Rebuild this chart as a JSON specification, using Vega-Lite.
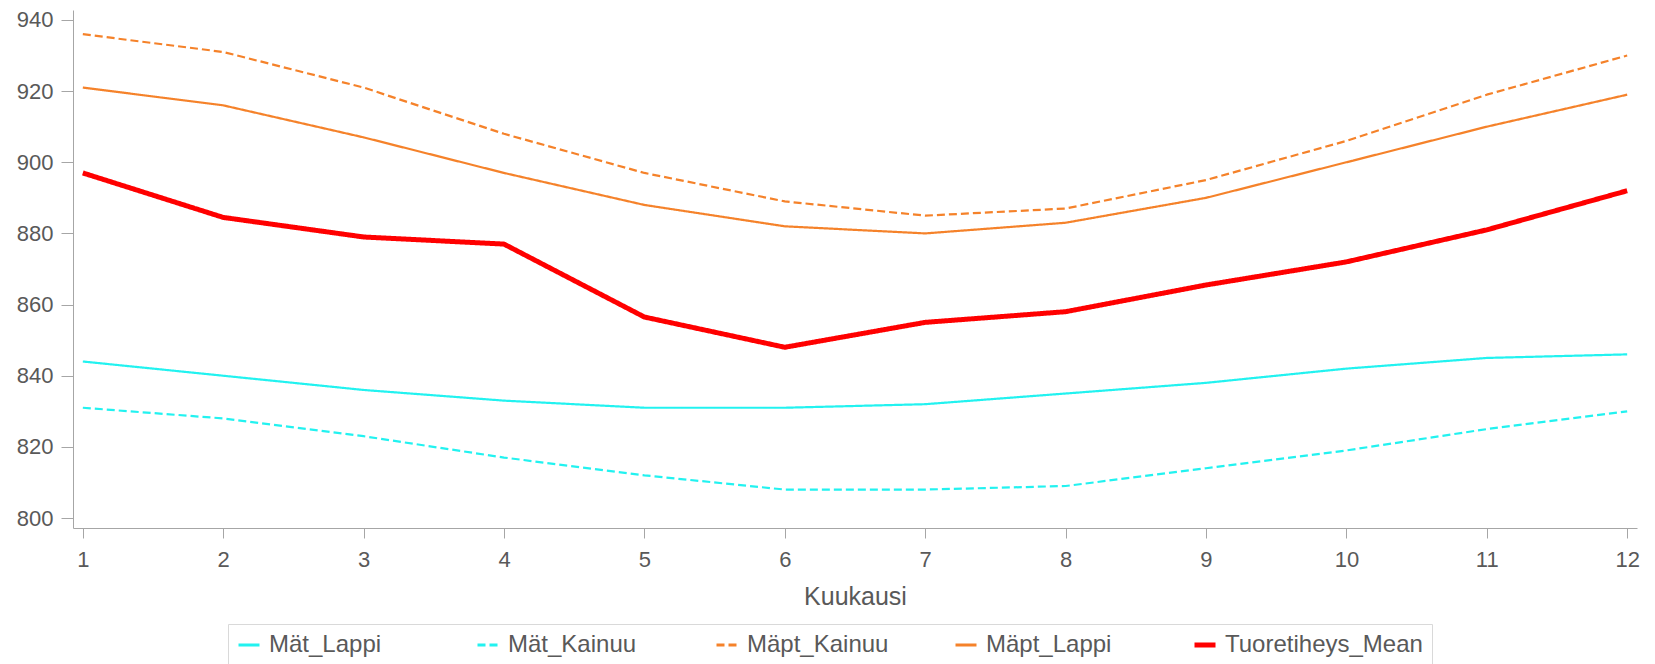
{
  "$schema": "https://vega.github.io/schema/vega-lite/v6.json",
  "width": 1564,
  "height": 518,
  "autosize": {"type": "none"},
  "padding": {"left": 73, "top": 10, "right": 18, "bottom": 136},
  "background": "white",
  "config": {
    "view": {"stroke": null},
    "font": "Liberation Sans",
    "axis": {
      "domainColor": "#A6A6A6",
      "tickColor": "#A6A6A6",
      "labelColor": "#595959",
      "labelFontSize": 22,
      "grid": false,
      "tickSize": 10
    },
    "legend": {
      "orient": "none",
      "legendX": 155,
      "legendY": 614,
      "direction": "horizontal",
      "columns": 5,
      "gridAlign": "all",
      "strokeColor": "#D9D9D9",
      "padding": 9,
      "labelFontSize": 24,
      "labelColor": "#595959",
      "labelOffset": 8,
      "symbolType": "stroke",
      "symbolSize": 441,
      "columnPadding": 0,
      "labelLimit": 400
    }
  },
  "data": {
    "values": [
      {"month": 1, "series": "Mät_Lappi", "value": 844},
      {"month": 2, "series": "Mät_Lappi", "value": 840},
      {"month": 3, "series": "Mät_Lappi", "value": 836},
      {"month": 4, "series": "Mät_Lappi", "value": 833},
      {"month": 5, "series": "Mät_Lappi", "value": 831},
      {"month": 6, "series": "Mät_Lappi", "value": 831},
      {"month": 7, "series": "Mät_Lappi", "value": 832},
      {"month": 8, "series": "Mät_Lappi", "value": 835},
      {"month": 9, "series": "Mät_Lappi", "value": 838},
      {"month": 10, "series": "Mät_Lappi", "value": 842},
      {"month": 11, "series": "Mät_Lappi", "value": 845},
      {"month": 12, "series": "Mät_Lappi", "value": 846},
      {"month": 1, "series": "Mät_Kainuu", "value": 831},
      {"month": 2, "series": "Mät_Kainuu", "value": 828},
      {"month": 3, "series": "Mät_Kainuu", "value": 823},
      {"month": 4, "series": "Mät_Kainuu", "value": 817},
      {"month": 5, "series": "Mät_Kainuu", "value": 812},
      {"month": 6, "series": "Mät_Kainuu", "value": 808},
      {"month": 7, "series": "Mät_Kainuu", "value": 808},
      {"month": 8, "series": "Mät_Kainuu", "value": 809},
      {"month": 9, "series": "Mät_Kainuu", "value": 814},
      {"month": 10, "series": "Mät_Kainuu", "value": 819},
      {"month": 11, "series": "Mät_Kainuu", "value": 825},
      {"month": 12, "series": "Mät_Kainuu", "value": 830},
      {"month": 1, "series": "Mäpt_Kainuu", "value": 936},
      {"month": 2, "series": "Mäpt_Kainuu", "value": 931},
      {"month": 3, "series": "Mäpt_Kainuu", "value": 921},
      {"month": 4, "series": "Mäpt_Kainuu", "value": 908},
      {"month": 5, "series": "Mäpt_Kainuu", "value": 897},
      {"month": 6, "series": "Mäpt_Kainuu", "value": 889},
      {"month": 7, "series": "Mäpt_Kainuu", "value": 885},
      {"month": 8, "series": "Mäpt_Kainuu", "value": 887},
      {"month": 9, "series": "Mäpt_Kainuu", "value": 895},
      {"month": 10, "series": "Mäpt_Kainuu", "value": 906},
      {"month": 11, "series": "Mäpt_Kainuu", "value": 919},
      {"month": 12, "series": "Mäpt_Kainuu", "value": 930},
      {"month": 1, "series": "Mäpt_Lappi", "value": 921},
      {"month": 2, "series": "Mäpt_Lappi", "value": 916},
      {"month": 3, "series": "Mäpt_Lappi", "value": 907},
      {"month": 4, "series": "Mäpt_Lappi", "value": 897},
      {"month": 5, "series": "Mäpt_Lappi", "value": 888},
      {"month": 6, "series": "Mäpt_Lappi", "value": 882},
      {"month": 7, "series": "Mäpt_Lappi", "value": 880},
      {"month": 8, "series": "Mäpt_Lappi", "value": 883},
      {"month": 9, "series": "Mäpt_Lappi", "value": 890},
      {"month": 10, "series": "Mäpt_Lappi", "value": 900},
      {"month": 11, "series": "Mäpt_Lappi", "value": 910},
      {"month": 12, "series": "Mäpt_Lappi", "value": 919},
      {"month": 1, "series": "Tuoretiheys_Mean", "value": 897},
      {"month": 2, "series": "Tuoretiheys_Mean", "value": 884.5},
      {"month": 3, "series": "Tuoretiheys_Mean", "value": 879},
      {"month": 4, "series": "Tuoretiheys_Mean", "value": 877},
      {"month": 5, "series": "Tuoretiheys_Mean", "value": 856.5},
      {"month": 6, "series": "Tuoretiheys_Mean", "value": 848},
      {"month": 7, "series": "Tuoretiheys_Mean", "value": 855},
      {"month": 8, "series": "Tuoretiheys_Mean", "value": 858},
      {"month": 9, "series": "Tuoretiheys_Mean", "value": 865.5},
      {"month": 10, "series": "Tuoretiheys_Mean", "value": 872},
      {"month": 11, "series": "Tuoretiheys_Mean", "value": 881},
      {"month": 12, "series": "Tuoretiheys_Mean", "value": 892}
    ]
  },
  "mark": {"type": "line", "strokeJoin": "round"},
  "encoding": {
    "x": {
      "field": "month",
      "type": "quantitative",
      "scale": {"domain": [0.93, 12.07], "nice": false, "zero": false},
      "axis": {
        "values": [1, 2, 3, 4, 5, 6, 7, 8, 9, 10, 11, 12],
        "title": "Kuukausi",
        "titleFontSize": 25,
        "titleFontWeight": "normal",
        "titleColor": "#595959",
        "titlePadding": 14,
        "labelPadding": 11
      }
    },
    "y": {
      "field": "value",
      "type": "quantitative",
      "scale": {"domain": [797.2, 942.8], "nice": false, "zero": false},
      "axis": {
        "values": [800, 820, 840, 860, 880, 900, 920, 940],
        "title": null,
        "labelPadding": 8,
        "tickSize": 12
      }
    },
    "color": {
      "field": "series",
      "type": "nominal",
      "title": null,
      "scale": {
        "domain": ["Mät_Lappi", "Mät_Kainuu", "Mäpt_Kainuu", "Mäpt_Lappi", "Tuoretiheys_Mean"],
        "range": ["#22F2F0", "#22F2F0", "#F5822A", "#F5822A", "#FF0000"]
      },
      "legend": {
        "symbolStrokeWidth": 3,
        "encode": {
          "symbols": {
            "update": {
              "strokeWidth": {"signal": "datum.value === 'Tuoretiheys_Mean' ? 5 : 3"}
            }
          }
        }
      }
    },
    "strokeDash": {
      "field": "series",
      "type": "nominal",
      "title": null,
      "scale": {
        "domain": ["Mät_Lappi", "Mät_Kainuu", "Mäpt_Kainuu", "Mäpt_Lappi", "Tuoretiheys_Mean"],
        "range": [[1, 0], [8, 4], [8, 4], [1, 0], [1, 0]]
      }
    },
    "strokeWidth": {
      "condition": {"test": "datum.series === 'Tuoretiheys_Mean'", "value": 5},
      "value": 2.2
    }
  }
}
